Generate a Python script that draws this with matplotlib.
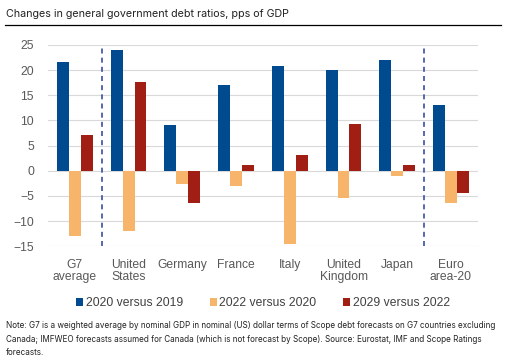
import numpy as np
import matplotlib.pyplot as plt
from matplotlib.lines import Line2D

# data
categories = ['G7\naverage', 'United\nStates', 'Germany', 'France', 'Italy',
              'United\nKingdom', 'Japan', 'Euro\narea-20']
v2020_2019 = [21.5, 23.9, 9.1, 17.0, 20.8, 20.1, 21.9, 13.1]
v2022_2020 = [-12.9, -12.0, -2.7, -3.0, -14.5, -5.4, -1.1, -6.5]
v2029_2022 = [7.1, 17.7, -6.5, 1.1, 3.1, 9.3, 1.2, -4.4]
series_names = ['2020 versus 2019', '2022 versus 2020', '2029 versus 2022']
colors = ['#004A8F', '#F6B56B', '#A01E13']

plt.rcParams['font.family'] = ['Liberation Sans', 'DejaVu Sans']

fig = plt.figure(figsize=(5.1, 3.62), dpi=100)
ax = fig.add_axes([0.094, 0.32, 0.843, 0.556])

x = np.arange(len(categories))
w = 0.222
for i, vals in enumerate([v2020_2019, v2022_2020, v2029_2022]):
    ax.bar(x + (i - 1) * w, vals, w, color=colors[i], label=series_names[i], zorder=3)

ax.set_xlim(-0.5, len(categories) - 0.5)
ax.set_ylim(-15, 25)
ax.set_yticks(np.arange(-15, 26, 5))
ax.grid(axis='y', color='#d9d9d9', lw=0.8, zorder=0)
for s in ax.spines.values():
    s.set_visible(False)
ax.tick_params(length=0, colors='#595959', labelsize=8.7)
ax.tick_params(axis='y', pad=10)
ax.tick_params(axis='x', pad=9)
ax.set_xticks(x)
ax.set_xticklabels(categories, linespacing=1.0)

# separators
for xv in [0.5, 6.5]:
    ax.axvline(xv, color='#3a4ea0', ls=(0, (3, 2.5)), lw=1.2, zorder=4)

ax.legend(loc='upper center', bbox_to_anchor=(0.5, -0.2), ncol=3, frameon=False,
          handlelength=0.6, handleheight=0.6, handletextpad=0.2, columnspacing=2.2,
          fontsize=8.7, labelcolor='#404040')

fig.text(0.012, 0.975, 'Changes in general government debt ratios, pps of GDP',
         fontsize=7.7, family=['Inter', 'DejaVu Sans'], va='top', color='#222222')
fig.add_artist(Line2D([0.01, 0.982], [0.93, 0.93], color='black', lw=0.9))

note = ('Note: G7 is a weighted average by nominal GDP in nominal (US) dollar terms of Scope debt forecasts on G7 countries excluding\n'
        'Canada; IMFWEO forecasts assumed for Canada (which is not forecast by Scope). Source: Eurostat, IMF and Scope Ratings\n'
        'forecasts.')
fig.text(0.012, 0.112, note, fontsize=5.85, family=['Inter', 'DejaVu Sans'], va='top',
         color='#222222', linespacing=1.6)

fig.savefig('out.png', dpi=100)
